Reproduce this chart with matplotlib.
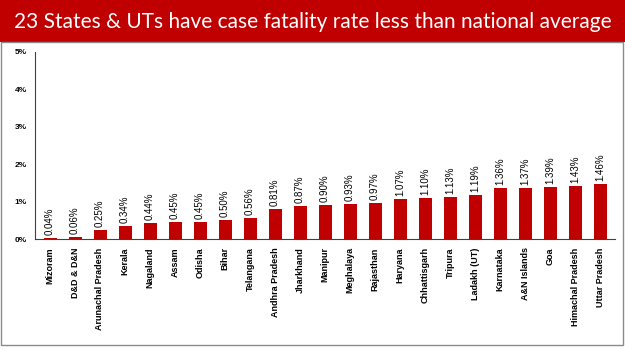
import matplotlib.pyplot as plt
from matplotlib.patches import Rectangle
import numpy as np

states = ["Mizoram", "D&D & D&N", "Arunachal Pradesh", "Kerala", "Nagaland", "Assam",
          "Odisha", "Bihar", "Telangana", "Andhra Pradesh", "Jharkhand", "Manipur",
          "Meghalaya", "Rajasthan", "Haryana", "Chhattisgarh", "Tripura", "Ladakh (UT)",
          "Karnataka", "A&N Islands", "Goa", "Himachal Pradesh", "Uttar Pradesh"]
cfr = [0.04, 0.06, 0.25, 0.34, 0.44, 0.45, 0.45, 0.50, 0.56, 0.81, 0.87, 0.90,
       0.93, 0.97, 1.07, 1.10, 1.13, 1.19, 1.36, 1.37, 1.39, 1.43, 1.46]
yticks = [0, 1, 2, 3, 4, 5]
title = "23 States & UTs have case fatality rate less than national average"

red = "#C00000"

fig = plt.figure(figsize=(6.25, 3.51), dpi=100)

# banner and frame
fig.patches.append(Rectangle((0, 0.88), 1, 0.12, transform=fig.transFigure,
                             facecolor=red, edgecolor="none", zorder=-2))
fig.patches.append(Rectangle((0.002, 0.017), 0.994, 0.863, transform=fig.transFigure,
                             facecolor="white", edgecolor="#8a8a8a", lw=1.0, zorder=-2))
fig.text(0.5, 0.938, title, color="white", fontsize=15, family="Lato",
         ha="center", va="center")

ax = fig.add_axes([0.056, 0.319, 0.928, 0.533])
ax.set_zorder(2)
ax.patch.set_alpha(0)
x = np.arange(len(states))
ax.bar(x, cfr, width=0.52, color=red)
for xi, v in zip(x, cfr):
    ax.text(xi, v + 0.08, f"{v:.2f}%", rotation=90, ha="center", va="bottom",
            fontsize=7, family="Liberation Sans")

ax.set_xlim(-0.6, len(states) - 0.4)
ax.set_ylim(0, 5)
ax.set_yticks(yticks)
ax.set_yticklabels([f"{t}%" for t in yticks], fontsize=6, fontweight="bold",
                   family="Liberation Sans")
ax.set_xticks(x)
ax.set_xticklabels(states, rotation=90, fontsize=6.5, fontweight="bold",
                   family="Liberation Sans")
ax.tick_params(length=0, pad=6)
ax.tick_params(axis="y", pad=6)
for s in ["top", "right"]:
    ax.spines[s].set_visible(False)
for s in ["left", "bottom"]:
    ax.spines[s].set_color("#404040")
    ax.spines[s].set_linewidth(0.8)

fig.savefig("out.png", dpi=100)
